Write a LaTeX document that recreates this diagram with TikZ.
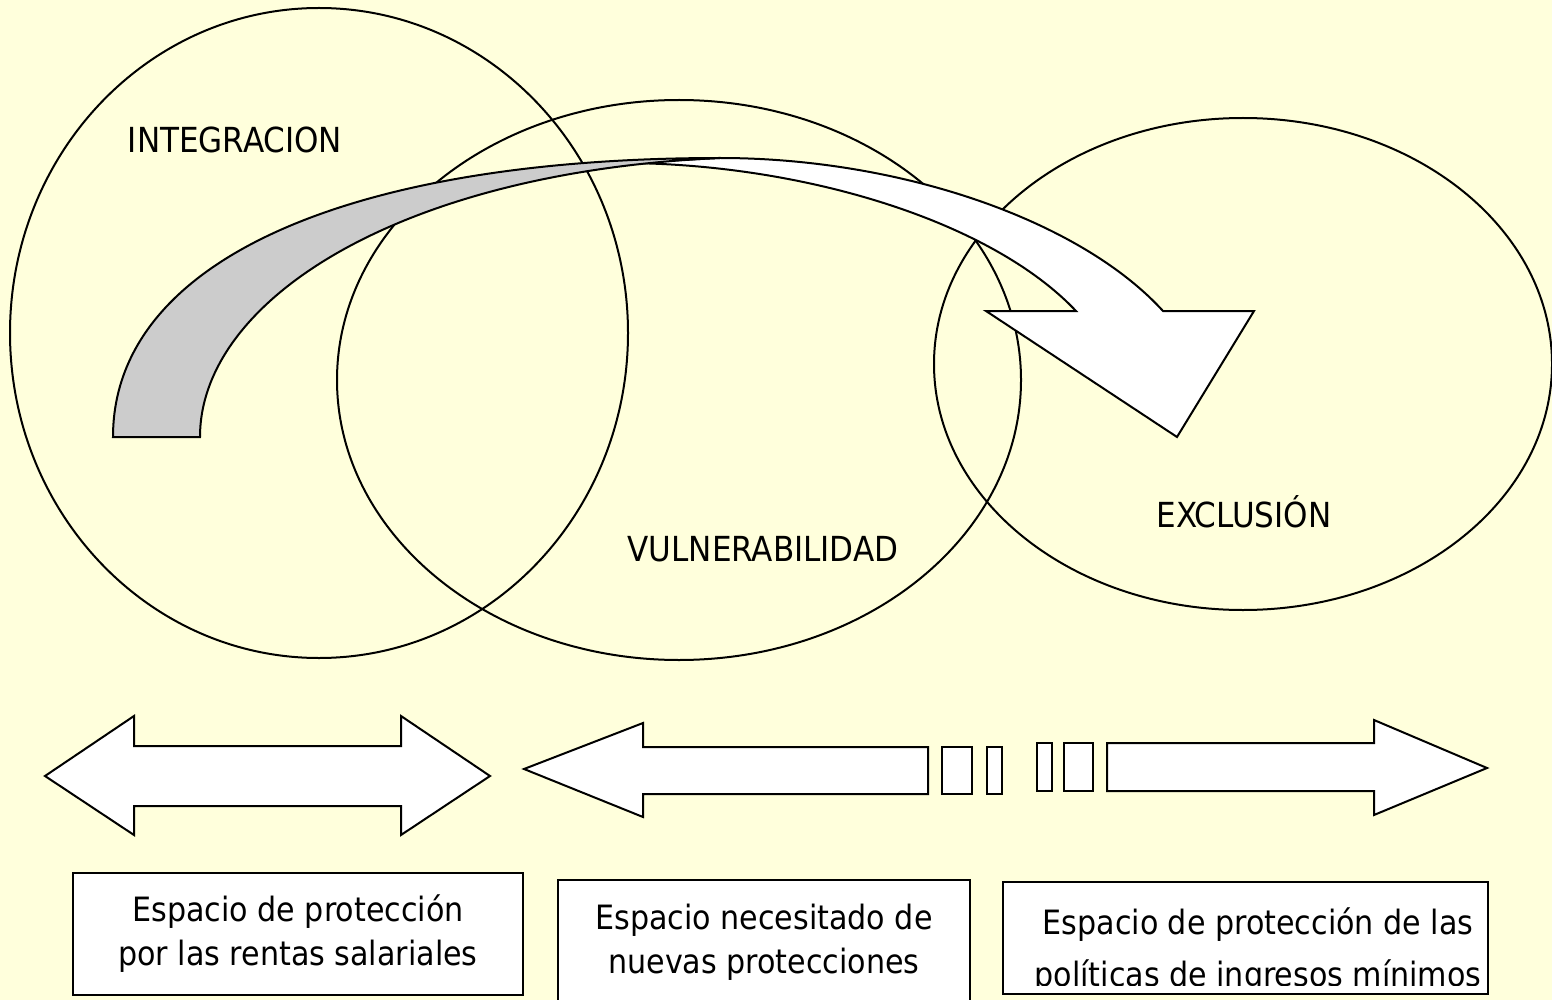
\documentclass[tikz,border=0pt]{standalone}
\usepackage{fontspec}
\setmainfont{DejaVu Sans Condensed}
\definecolor{bgyellow}{RGB}{255,255,220}
\definecolor{bandgray}{RGB}{204,204,204}
\begin{document}
\begin{tikzpicture}[x=1pt, y=-1pt, line width=2pt,
    every node/.style={inner sep=0pt},
    zone/.style={font=\fontsize{34.5}{34.5}\selectfont},
    capbox/.style={draw, fill=white, align=center, font=\fontsize{33.5}{44}\selectfont},
    flecha/.style={draw, fill=white}]
    \fill[bgyellow] (0,0) rectangle (1552,1000);
    \useasboundingbox (0,0) rectangle (1552,1000);
    \clip (0,0) rectangle (1552,1000);
    \draw (319,333) ellipse [x radius=309, y radius=325];
    \draw (679,380) ellipse [x radius=342, y radius=280];
    \draw (1243,364) ellipse [x radius=309, y radius=246];
    \node[zone] (integ) at (235,140) {INTEGRACION};
    \node[zone] (vulner) at (763,549) {VULNERABILIDAD};
    \node[zone] (exclu) at (1244,512) {EXCLUSIÓN};
    \draw[flecha] (720,158) .. controls (900,158) and (1080,220) .. (1163,311) -- (1254,311) -- (1177,437)
        -- (986,311) -- (1076,311) .. controls (990,220) and (800,163) .. (620,163) -- cycle;
    \draw[fill=bandgray] (113,437) .. controls (113,260) and (350,158) .. (720,158)
        .. controls (400,172) and (200,300) .. (200,437) -- cycle;
    \draw[flecha] (45,776) -- (134,716) -- (134,746) -- (401,746) -- (401,716) -- (490,776)
        -- (401,835) -- (401,806) -- (134,806) -- (134,835) -- cycle;
    \draw[flecha] (524,769) -- (643,723) -- (643,747) -- (928,747) -- (928,794) -- (643,794) -- (643,817) -- cycle;
    \draw[flecha] (942,747) rectangle (972,794);
    \draw[flecha] (987,747) rectangle (1002,794);
    \draw[flecha] (1037,743) rectangle (1052,791);
    \draw[flecha] (1064,743) rectangle (1093,791);
    \draw[flecha] (1107,743) -- (1374,743) -- (1374,720) -- (1487,768) -- (1374,815) -- (1374,791) -- (1107,791) -- cycle;
    \node[capbox, minimum width=450pt, minimum height=122pt] (box1) at (298,934) {Espacio de protección\\por las rentas salariales};
    \node[capbox, minimum width=412pt, minimum height=124pt] (box2) at (764,942) {Espacio necesitado de\\nuevas protecciones};
    \node[capbox, minimum width=485pt, minimum height=112pt] (box3) at (1245.5,938) {};
    \begin{scope}
        \clip (1003,880) rectangle (1488,985);
        \node[capbox, draw=none, fill=none, font=\fontsize{33.5}{52}\selectfont] (cap3) at (1258,951) {Espacio de protección de las\\políticas de ingresos mínimos};
    \end{scope}
\end{tikzpicture}
\end{document}
